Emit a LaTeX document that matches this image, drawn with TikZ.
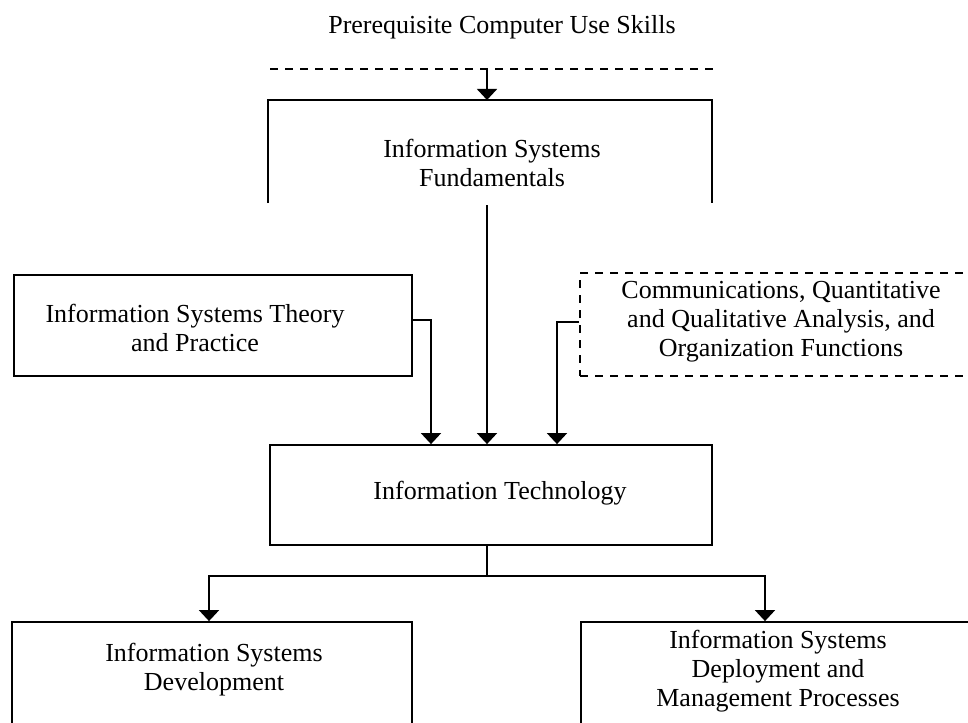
\documentclass[tikz,border=0pt]{standalone}
\usepackage{fontspec}
\setmainfont{Liberation Serif}
\usetikzlibrary{arrows.meta}
\tikzset{
  solidbox/.style={draw, line width=1.8pt, inner sep=0pt},
  dashbox/.style={draw, line width=1.8pt, inner sep=0pt, dash pattern=on 8pt off 7pt},
  lbl/.style={align=center, font=\fontsize{26}{29}\selectfont, inner sep=0pt},
  conn/.style={line width=1.8pt},
  arr/.style={conn, -{Triangle[width=20pt,length=11pt]}},
}
\begin{document}
\begin{tikzpicture}[x=1pt,y=-1pt]
\useasboundingbox (0,0) rectangle (968,722);
\clip (0,0) rectangle (968,722);

% title and the dashed rule under it
\node[lbl] (pre) at (502,27) {Prerequisite Computer Use Skills};
\draw[conn, dash pattern=on 8pt off 7pt] (270,69) -- (716,69);
\coordinate (preline) at (487,69);

% open frame of the fundamentals block
\draw[conn] (268,203) -- (268,100) -- (712,100) -- (712,203);
\coordinate (fundtop) at (487,100);
\coordinate (fundbot) at (487,205);
\node[lbl] (fund) at (492,163) {Information Systems\\Fundamentals};

% boxes
\node[solidbox, minimum width=398pt, minimum height=101pt] (theory) at (213,325.5) {};
\node[lbl] (theorytxt) at (195,328) {Information Systems Theory\\and Practice};

\node[dashbox, minimum width=410pt, minimum height=103pt] (comm) at (785,324.5) {};
\node[lbl] (commtxt) at (781,322) {Communications, Quantitative\\and Qualitative Analysis, and\\Organization Functions};

\node[solidbox, minimum width=442pt, minimum height=100pt] (it) at (491,495) {};
\node[lbl] (ittxt) at (500,493) {Information Technology};

\node[solidbox, minimum width=400pt, minimum height=104pt] (dev) at (212,674) {};
\node[lbl] (devtxt) at (214,670) {Information Systems\\Development};

\node[solidbox, minimum width=410pt, minimum height=104pt] (dep) at (786,674) {};
\node[lbl] (deptxt) at (778,671) {Information Systems\\Deployment and\\Management Processes};

% connectors
\draw[arr] (preline) -- (fundtop);
\draw[arr] (fundbot) -- (fundbot |- it.north);
\draw[arr] (theory.east |- 0,320) -| ([xshift=-60pt]it.north);
\draw[arr] (comm.west |- 0,322) -| ([xshift=66pt]it.north);
\coordinate (split) at (487,576);
\draw[conn] (split |- it.south) -- (split);
\draw[arr] (split) -| ([xshift=-3pt]dev.north);
\draw[arr] (split) -| ([xshift=-21pt]dep.north);
\end{tikzpicture}
\end{document}
